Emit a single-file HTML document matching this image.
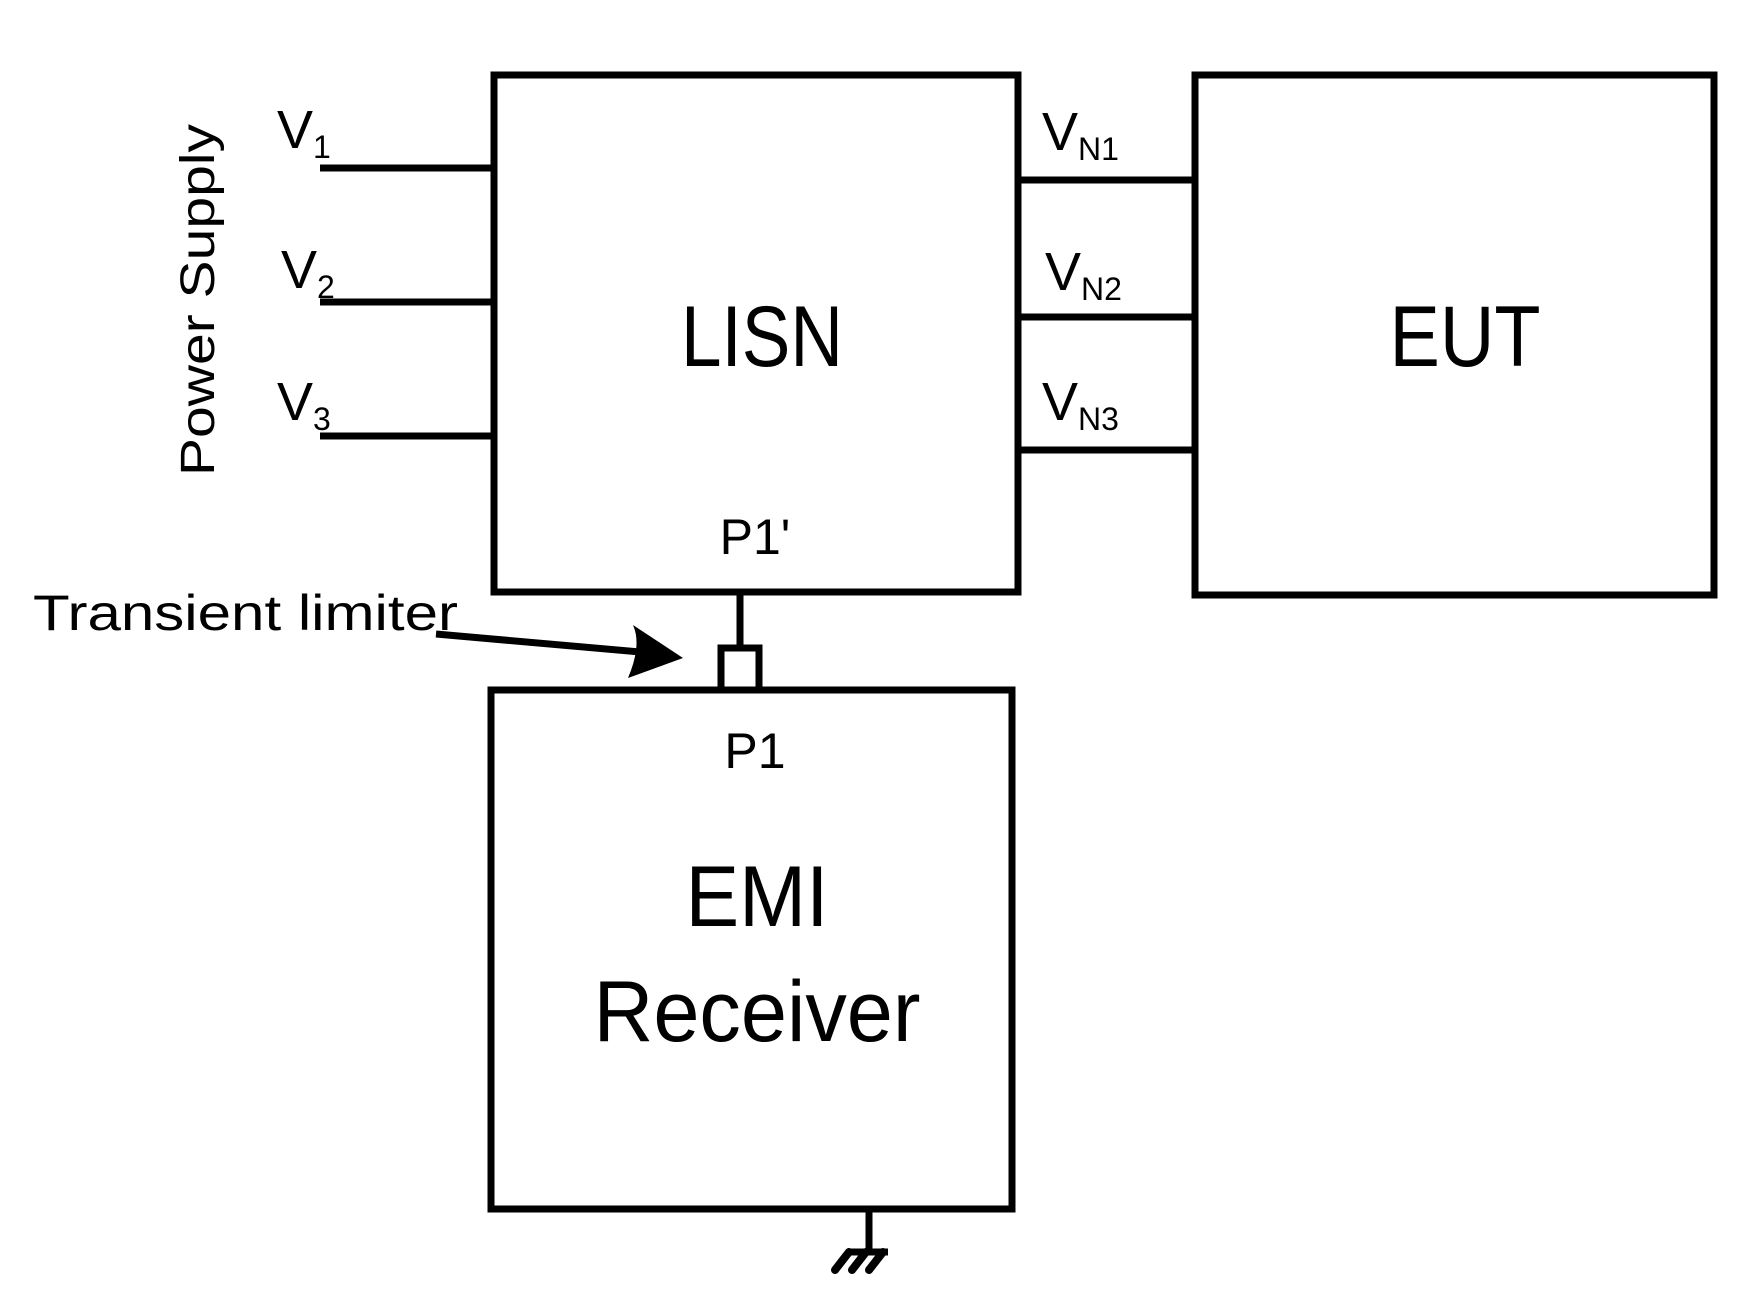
<!DOCTYPE html>
<html><head><style>body{margin:0;background:#fff}svg{display:block}</style></head><body>
<svg width="1745" height="1307" viewBox="0 0 1745 1307" xmlns="http://www.w3.org/2000/svg" font-family="'Liberation Sans', sans-serif" fill="#000">
<g fill="none" stroke="#000" stroke-width="7">
<rect x="494" y="75" width="524" height="517"/>
<rect x="1195" y="75" width="519" height="520"/>
<rect x="491" y="690" width="521" height="519"/>
<line x1="320" y1="168" x2="494" y2="168"/>
<line x1="320" y1="302" x2="494" y2="302"/>
<line x1="320" y1="436" x2="494" y2="436"/>
<line x1="1018" y1="180" x2="1195" y2="180"/>
<line x1="1018" y1="317" x2="1195" y2="317"/>
<line x1="1018" y1="450" x2="1195" y2="450"/>
<line x1="740" y1="592" x2="740" y2="648"/>
<rect x="721" y="648" width="38" height="42"/>
<line x1="436" y1="634" x2="640" y2="652"/>
<line x1="869" y1="1209" x2="869" y2="1252"/>
<line x1="849" y1="1252" x2="888" y2="1252"/>
<line x1="849" y1="1252" x2="835" y2="1270" stroke-linecap="round" stroke-width="8"/>
<line x1="866" y1="1252" x2="852" y2="1270" stroke-linecap="round" stroke-width="8"/>
<line x1="883" y1="1252" x2="869" y2="1270" stroke-linecap="round" stroke-width="8"/>
</g>
<path d="M683,658 L633,625 Q642,645 628,678 Z"/>
<g font-size="86" text-anchor="middle">
<text x="762" y="366" textLength="162" lengthAdjust="spacingAndGlyphs">LISN</text>
<text x="1465" y="366" textLength="151" lengthAdjust="spacingAndGlyphs">EUT</text>
<text x="757" y="926" textLength="143" lengthAdjust="spacingAndGlyphs">EMI</text>
<text x="757" y="1041" textLength="327" lengthAdjust="spacingAndGlyphs">Receiver</text>
</g>
<g font-size="50" text-anchor="middle">
<text x="755" y="554">P1'</text>
<text x="755" y="768">P1</text>
</g>
<text x="33" y="630" font-size="50" textLength="425" lengthAdjust="spacingAndGlyphs">Transient limiter</text>
<text transform="translate(214,300) rotate(-90)" font-size="48" text-anchor="middle" textLength="352" lengthAdjust="spacingAndGlyphs">Power Supply</text>
<g font-size="54">
<text x="277" y="148">V<tspan font-size="32" dy="10">1</tspan></text>
<text x="281" y="288">V<tspan font-size="32" dy="10">2</tspan></text>
<text x="277" y="420">V<tspan font-size="32" dy="10">3</tspan></text>
<text x="1042" y="150">V<tspan font-size="32" dy="10">N1</tspan></text>
<text x="1045" y="290">V<tspan font-size="32" dy="10">N2</tspan></text>
<text x="1042" y="420">V<tspan font-size="32" dy="10">N3</tspan></text>
</g>
</svg>
</body></html>
